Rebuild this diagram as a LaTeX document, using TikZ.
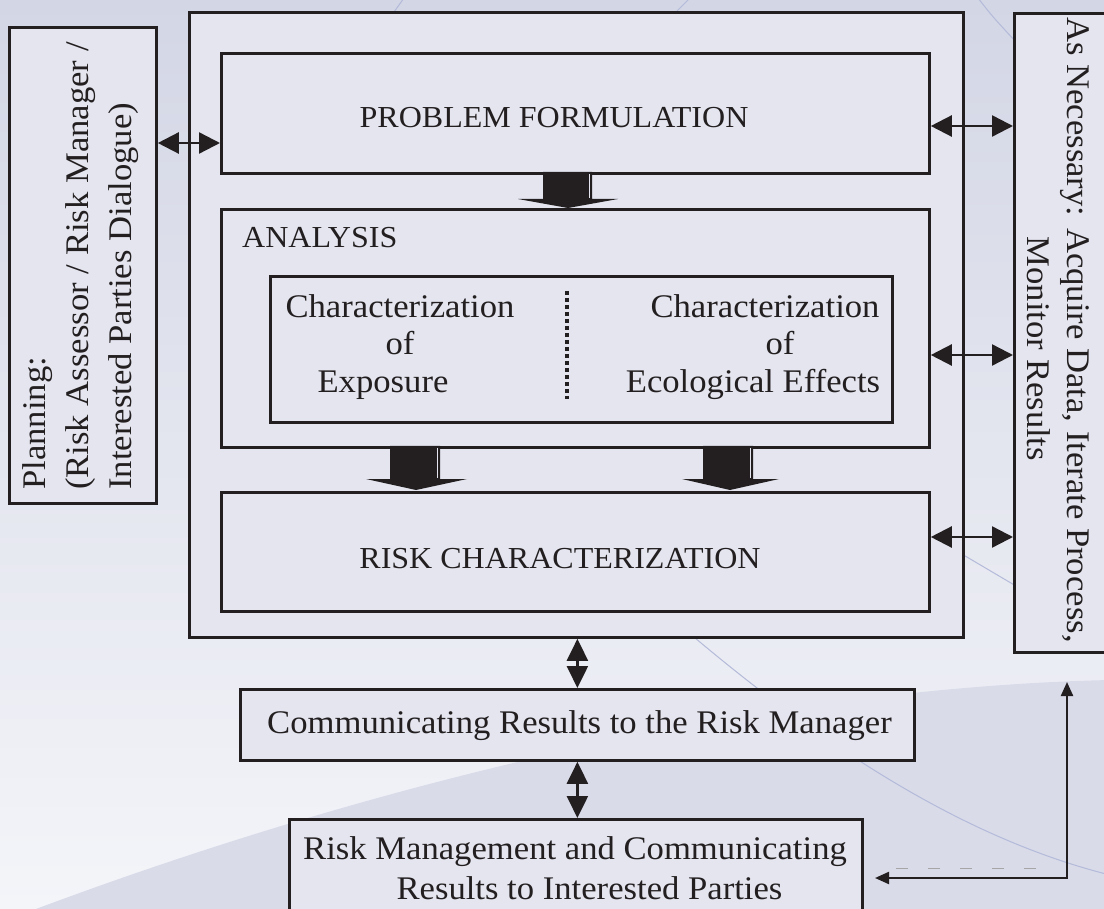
\documentclass[tikz,border=0pt]{standalone}
\usepackage{fontspec}
\setmainfont{Liberation Serif}[FakeStretch=1.05]
\usetikzlibrary{arrows.meta,calc}
\definecolor{ink}{HTML}{231F20}
\definecolor{boxfill}{HTML}{E4E5EF}
\definecolor{bgtop}{HTML}{D3D6E5}
\definecolor{bgbot}{HTML}{F4F5F9}
\definecolor{bgdark}{HTML}{D9DBE9}
\definecolor{arcline}{HTML}{B4BAD9}
\tikzset{
  box/.style={draw=ink, line width=2.8pt, fill=boxfill, inner sep=0pt, anchor=north west},
  txt/.style={text=ink, font=\fontsize{33}{40}\selectfont, inner sep=0pt},
  caps/.style={text=ink, font=\fontsize{30.5}{36}\selectfont, inner sep=0pt},
  dbl/.style={draw=ink, line width=2.4pt, {Triangle[length=21pt,width=21pt]}-{Triangle[length=21pt,width=21pt]}},
  dblv/.style={draw=ink, line width=2.4pt, {Triangle[length=22pt,width=21pt]}-{Triangle[length=22pt,width=21pt]}},
  larr/.style={draw=ink, line width=2.2pt, {Triangle[length=14pt,width=12pt]}-{Triangle[length=14pt,width=12pt]}},
  blk/.style={fill=ink},
  glint/.style={draw=boxfill, line width=0.8pt},
  bgarc/.style={draw=arcline, line width=1pt},
  faint/.style={draw=black!35, line width=0.7pt, dash pattern=on 12pt off 20pt},
}
\begin{document}
\begin{tikzpicture}[x=1pt,y=-1pt]
\useasboundingbox (0,0) rectangle (1104,909);
\clip (0,0) rectangle (1104,909);
% background
\shade[top color=bgtop, bottom color=bgbot] (0,0) rectangle (1104,909);
\fill[bgdark] (20,915) .. controls (350,790) and (750,688) .. (1110,680) -- (1110,915) -- cycle;
\draw[bgarc] (660,608) .. controls (800,730) and (950,835) .. (1110,875);
\draw[bgarc] (394,12) -- (404,-2);
\draw[bgarc] (676,12) -- (690,-2);
\draw[bgarc] (978,-2) .. controls (992,16) .. (1016,42);
\draw[bgarc] (955,550) -- (1016,586);

% boxes
\node[box, minimum width=774pt, minimum height=625pt] (outer) at (188,11) {};
\node[box, minimum width=147pt, minimum height=476pt] (plan) at (8,26) {};
\node[box, minimum width=120pt, minimum height=639pt] (nec) at (1013,12) {};
\node[box, minimum width=708pt, minimum height=120pt] (pf) at (220,52) {};
\node[box, minimum width=708pt, minimum height=238pt] (an) at (220,208) {};
\node[box, minimum width=622pt, minimum height=146pt] (ch) at (269,275) {};
\node[box, minimum width=708pt, minimum height=119pt] (rc) at (220,491) {};
\node[box, minimum width=674pt, minimum height=71pt] (comm) at (239,688) {};
\node[box, minimum width=573pt, minimum height=120pt] (rm) at (288,818) {};

% dotted divider
\draw[ink, line width=3.6pt, dash pattern=on 3.6pt off 3.4pt] (567,291) -- (567,399);

% block arrows
\fill[blk] (543,172) -- (592,172) -- (592,199) -- (618,199) -- (568,208) -- (518,199) -- (543,199) -- cycle;
\draw[glint] (589,174) -- (589,198);
\fill[blk] (390,446) -- (440,446) -- (440,479) -- (467,479) -- (416,490) -- (366,479) -- (390,479) -- cycle;
\draw[glint] (437,448) -- (437,478);
\fill[blk] (703,446) -- (753,446) -- (753,479) -- (779,479) -- (730,490) -- (682,479) -- (703,479) -- cycle;
\draw[glint] (750,448) -- (750,478);

% double arrows
\draw[dbl] (plan.east |- 0,143) -- (pf.west |- 0,143);
\draw[dbl] (pf.east |- 0,126) -- (nec.west |- 0,126);
\draw[dbl] (an.east |- 0,355) -- (nec.west |- 0,355);
\draw[dbl] (rc.east |- 0,537) -- (nec.west |- 0,537);
\draw[dblv] (outer.south -| comm.north) -- (comm.north);
\draw[dblv] (comm.south) -- (rm.north -| comm.south);

% feedback connector
\coordinate (lc) at (1067,878);
\coordinate (lt) at (875,878);
\coordinate (up) at (1067,682);
\draw[faint] (896,868) -- (1055,868);
\draw[larr] (lt) -- (lc) -- (up);

% texts
\node[caps, anchor=base] (pft) at (554,128) {PROBLEM FORMULATION};
\node[caps, anchor=base west] (ant) at (242,248) {ANALYSIS};
\node[txt, anchor=base, align=center, font=\fontsize{33}{38}\selectfont] (cet) at (400,393)
  {Characterization\\of\hspace*{34pt}\\Exposure\hspace*{34pt}};
\node[txt, anchor=base, align=center, font=\fontsize{33}{38}\selectfont] (cft) at (765,393)
  {Characterization\\\hspace*{30pt}of\\Ecological Effects\hspace*{24pt}};
\node[caps, anchor=base] (rct) at (560,568) {RISK CHARACTERIZATION};
\node[txt, anchor=base] (ct) at (579.5,733) {Communicating Results to the Risk Manager};
\node[txt, anchor=base, align=center] (rmt) at (575,899)
  {Risk Management and Communicating\\\hspace*{29pt}Results to Interested Parties};
\node[txt, rotate=90, anchor=base west, align=left, font=\fontsize{33}{43}\selectfont] (plt) at (131,490)
  {Planning:\\(Risk Assessor / Risk Manager /\\Interested Parties Dialogue)};
\node[txt, rotate=-90, anchor=base, align=center] (nct) at (1027,330)
  {As Necessary: Acquire Data, Iterate Process,\\\hspace*{38pt}Monitor Results};
\end{tikzpicture}
\end{document}
